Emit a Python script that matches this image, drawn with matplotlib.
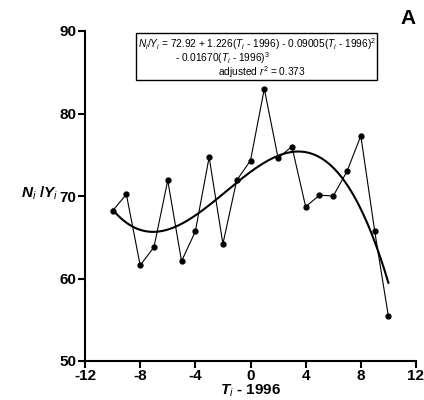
import numpy as np
import matplotlib
matplotlib.use("Agg")
import matplotlib.pyplot as plt
from matplotlib.patches import Rectangle

plt.rcParams['font.family'] = ['Liberation Sans', 'DejaVu Sans']
plt.rcParams['mathtext.fontset'] = 'custom'
plt.rcParams['mathtext.rm'] = 'Liberation Sans'
plt.rcParams['mathtext.it'] = 'Liberation Sans:italic'
plt.rcParams['mathtext.bf'] = 'Liberation Sans:bold'
plt.rcParams['mathtext.bfit'] = 'Liberation Sans:bold:italic'
plt.rcParams['axes.unicode_minus'] = False

# years relative to 1996 and observed N/Y
t = [-10, -9, -8, -7, -6, -5, -4, -3, -2, -1, 0, 1, 2, 3, 4, 5, 6, 7, 8, 9, 10]
ny = [68.2, 70.2, 61.6, 63.8, 71.9, 62.1, 65.7, 74.7, 64.2, 71.9, 74.3, 83.0,
      74.6, 76.0, 68.7, 70.1, 70.0, 73.0, 77.3, 65.8, 55.4]

# cubic fit coefficients (constant, linear, quadratic, cubic)
coef = [72.92, 1.226, -0.09005, -0.01670]
xticks = [-12, -8, -4, 0, 4, 8, 12]
yticks = [50, 60, 70, 80, 90]

fig = plt.figure(figsize=(4.24, 4.0), dpi=100)
ax = fig.add_axes([85/424, 1-361/400, 331/424, 330/400])

ax.plot(t, ny, color='black', lw=0.8, marker='o', ms=3.5, zorder=3)
xs = np.linspace(min(t), max(t), 200)
fit = coef[0] + coef[1]*xs + coef[2]*xs**2 + coef[3]*xs**3
ax.plot(xs, fit, color='black', lw=1.5)

ax.set_xlim(-12, 12)
ax.set_ylim(50, 90)
ax.set_xticks(xticks)
ax.set_yticks(yticks)
ax.spines['top'].set_visible(False)
ax.spines['right'].set_visible(False)
for s in ['left', 'bottom']:
    ax.spines[s].set_linewidth(1.5)
ax.tick_params(direction='out', length=5, width=1.5, labelsize=11, pad=1)
for lab in ax.get_xticklabels() + ax.get_yticklabels():
    lab.set_fontweight('bold')

fig.text(251/424, 1-391/400, r'$\mathbfit{T}_{\mathit{i}}$ - 1996', ha='center', va='center',
         fontsize=11, fontweight='bold')
fig.text(40/424, 1-193/400, r'$\mathbfit{N}_{\mathit{i}}$ /$\mathbfit{Y}_{\mathit{i}}$',
         ha='center', va='center', fontsize=11, fontweight='bold')

fig.text(408/424, 1-18/400, 'A', ha='center', va='center', fontsize=15, fontweight='bold')

# equation box
fig.add_artist(Rectangle((136/424, 1-80/400), 241/424, 47/400, transform=fig.transFigure,
                         fill=False, lw=1.0, ec='black'))
fs = 7.3
fig.text(138/424, 1-44/400,
         r'$N_i$/$Y_i$ = 72.92 + 1.226($T_i$ - 1996) - 0.09005($T_i$ - 1996)$^2$',
         ha='left', va='center', fontsize=fs)
fig.text(175/424, 1-58/400, r'- 0.01670($T_i$ - 1996)$^3$', ha='left', va='center', fontsize=fs)
fig.text(262/424, 1-72.5/400, r'adjusted $r^2$ = 0.373', ha='center', va='center', fontsize=fs)

fig.savefig('out.png', dpi=100)
